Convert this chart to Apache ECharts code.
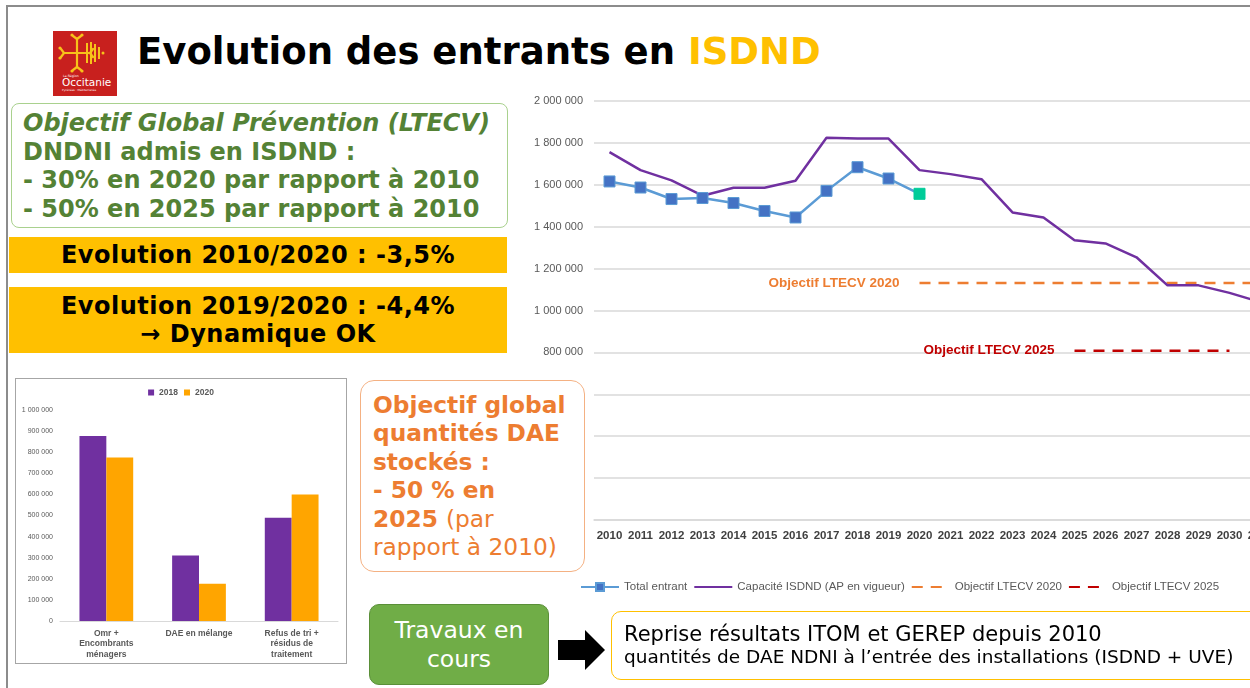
<!DOCTYPE html>
<html>
<head>
<meta charset="utf-8">
<script src="https://cdn.jsdelivr.net/npm/echarts@6/dist/echarts.min.js"></script>
<style>
  html, body { margin: 0; padding: 0; }
  body { width: 1250px; height: 688px; overflow: hidden; background: #fff; position: relative;
         font-family: "DejaVu Sans", Verdana, sans-serif; }
  .abs { position: absolute; box-sizing: border-box; }
  #frame { left: 6px; top: 5px; width: 1300px; height: 720px; border-left: 2px solid #8c8c8c; border-top: 2px solid #8c8c8c; }
  #logo { left: 53px; top: 31px; width: 64px; height: 65px; background: #c8201e; }
  #title { left: 137px; top: 28px; font-size: 37px; font-weight: bold; line-height: 48px; white-space: nowrap; color: #000; }
  #title span { color: #ffc000; }
  #goal { left: 11px; top: 103px; width: 497px; height: 125px; border: 1.5px solid #a9d18e; border-radius: 8px;
          padding: 5px 0 0 11px; color: #548235; font-weight: bold; font-size: 24px; line-height: 28.5px; white-space: nowrap; }
  .yel { background: #ffc000; left: 9px; width: 498px; text-align: center; font-weight: bold; font-size: 24px;
         letter-spacing: 0.5px; color: #000; white-space: nowrap; }
  #evo1 { top: 237px; height: 36px; line-height: 36px; }
  #evo2 { top: 287px; height: 66px; line-height: 28px; padding-top: 5px; }
  #barbox { left: 15px; top: 378px; width: 332px; height: 286px; border: 1px solid #a6a6a6; background: #fff; }
  #bars { left: 0; top: 0; width: 330px; height: 284px; }
  #dae { left: 360px; top: 380px; width: 225px; height: 192px; border: 1.5px solid #f4b183; border-radius: 14px; background: #fff;
         padding: 10px 0 0 12px; color: #ed7d31; font-weight: bold; font-size: 23.3px; line-height: 28.4px; white-space: nowrap; z-index: 5; }
  #dae span { font-weight: normal; }
  #travaux { left: 369px; top: 604px; width: 180px; height: 81px; background: #70ad47; border: 1px solid #5a8f38; border-radius: 10px;
             color: #fff; font-size: 23.5px; line-height: 29px; text-align: center; padding-top: 11px; white-space: nowrap; }
  #arrow { left: 556px; top: 628px; width: 52px; height: 44px; }
  #reprise { left: 611px; top: 611px; width: 660px; height: 69px; border: 1.5px solid #ffc000; border-radius: 10px;
             padding: 11px 0 0 12px; color: #000; white-space: nowrap; }
  #reprise .l1 { font-size: 21px; line-height: 23px; }
  #reprise .l2 { font-size: 18.5px; line-height: 21px; }
  #main { left: 520px; top: 85px; width: 770px; height: 530px; }
</style>
</head>
<body>
<div id="frame" class="abs"></div>

<div id="logo" class="abs">
  <svg width="64" height="65" viewBox="0 0 64 65">
    <g stroke="#f7c21a" stroke-width="2.2" fill="none" stroke-linecap="round">
      <path d="M24 8 L24 36 M11 22 L37 22"/>
      <path d="M24 8 L20 5 M24 8 L28 5 M24 36 L20 39 M24 36 L28 39 M11 22 L8 18 M11 22 L8 26"/>
      <path d="M37 22 L40 18 M37 22 L40 26"/>
    </g>
    <g fill="#f7c21a">
      <circle cx="19" cy="4" r="1.6"/><circle cx="29" cy="4" r="1.6"/>
      <circle cx="19" cy="40" r="1.6"/><circle cx="29" cy="40" r="1.6"/>
      <circle cx="7" cy="17" r="1.6"/><circle cx="7" cy="27" r="1.6"/>
      <rect x="33" y="12" width="2" height="20"/><rect x="37" y="11" width="2" height="22"/>
      <rect x="41" y="13" width="2" height="18"/><rect x="45" y="16" width="2" height="12"/>
      <circle cx="50" cy="22" r="1.5"/>
    </g>
    <text x="10" y="46" font-size="3.2" fill="#fff" font-family="DejaVu Sans">La Région</text>
    <text x="9" y="55" font-size="10.5" fill="#fff" font-family="DejaVu Sans">Occitanie</text>
    <text x="9" y="60" font-size="2.8" fill="#fff" font-family="DejaVu Sans">Pyrénées · Méditerranée</text>
  </svg>
</div>

<div id="title" class="abs">Evolution des entrants en <span>ISDND</span></div>

<div id="goal" class="abs"><i>Objectif Global Prévention (LTECV)</i><br>DNDNI admis en ISDND :<br>- 30% en 2020 par rapport à 2010<br>- 50% en 2025 par rapport à 2010</div>

<div id="evo1" class="abs yel">Evolution 2010/2020 : -3,5%</div>
<div id="evo2" class="abs yel">Evolution 2019/2020 : -4,4%<br>→ Dynamique OK</div>

<div id="main" class="abs"></div>

<div id="barbox" class="abs"><div id="bars" class="abs"></div></div>

<div id="dae" class="abs">Objectif global<br>quantités DAE<br>stockés :<br>- 50 % en<br>2025 <span>(par<br>rapport à 2010)</span></div>

<div id="travaux" class="abs">Travaux en<br>cours</div>

<svg id="arrow" class="abs" viewBox="0 0 52 44">
  <polygon points="2,12 29,12 29,2 49,22 29,42 29,32 2,32" fill="#000"/>
</svg>

<div id="reprise" class="abs"><div class="l1">Reprise résultats ITOM et GEREP depuis 2010</div><div class="l2">quantités de DAE NDNI à l’entrée des installations (ISDND + UVE)</div></div>

<script>
  // ---- données du graphique principal (tonnes / an) ----
  var years = ['2010','2011','2012','2013','2014','2015','2016','2017','2018','2019','2020',
               '2021','2022','2023','2024','2025','2026','2027','2028','2029','2030','2031'];
  var totalEntrant = [1616000, 1587000, 1532000, 1537000, 1513000, 1475000, 1444000, 1571000, 1684000, 1630000, 1557000];
  var capaciteIsdnd = [1756000, 1670000, 1621000, 1548000, 1586000, 1586000, 1619000, 1825000, 1821000, 1821000, 1670000,
                       1651000, 1627000, 1468000, 1444000, 1335000, 1320000, 1254000, 1120000, 1120000, 1084000, 1040000];
  var objectif2020 = [null, null, null, null, null, null, null, null, null, null, 1131000,
                      1131000, 1131000, 1131000, 1131000, 1131000, 1131000, 1131000, 1131000, 1131000, 1131000, 1131000];
  var objectif2025 = [null, null, null, null, null, null, null, null, null, null, null,
                      null, null, null, null, 808000, 808000, 808000, 808000, 808000, 808000, null];

  // ---- petit graphique : 2018 / 2020 ----
  var dechetCategories = ['Omr +\nEncombrants\nménagers', 'DAE en mélange', 'Refus de tri +\nrésidus de\ntraitement'];
  var tonnage2018 = [877000, 310000, 489000];
  var tonnage2020 = [775000, 177000, 600000];

  function fmt(v) {
    return String(v).replace(/\B(?=(\d{3})+(?!\d))/g, ' ');
  }

  var excelFont = '"Liberation Sans Narrow", "Liberation Sans", sans-serif';

  // point 2020 en vert
  var totalData = totalEntrant.map(function(v, i) {
    if (i === totalEntrant.length - 1) {
      return { value: v, itemStyle: { color: '#00cc99', borderColor: '#00cc99' } };
    }
    return v;
  });

  function withLabel(arr, text, color) {
    var first = true;
    return arr.map(function(v) {
      if (v !== null && first) {
        first = false;
        return {
          value: v,
          label: {
            show: true, position: 'left', distance: 20, formatter: text,
            color: color, fontWeight: 'bold', fontSize: 13.5, fontFamily: excelFont
          }
        };
      }
      return v;
    });
  }

  var chartMain = echarts.init(document.getElementById('main'));
  chartMain.setOption({
    animation: false,
    grid: { left: 74, top: 16, width: 682, height: 419, containLabel: false, outerBoundsMode: 'none' },
    legend: {
      left: 60, top: 496, padding: 0,
      itemWidth: 38, itemHeight: 10, itemGap: 6,
      textStyle: { color: '#595959', fontSize: 11.5, fontFamily: excelFont },
      data: [
        { name: 'Total entrant' },
        { name: 'Capacité ISDND (AP en vigueur)', itemStyle: { opacity: 0 } },
        { name: 'Objectif LTECV 2020', itemStyle: { opacity: 0 } },
        { name: 'Objectif LTECV 2025', itemStyle: { opacity: 0 } }
      ]
    },
    xAxis: {
      type: 'category',
      data: years,
      axisLine: { lineStyle: { color: '#d9d9d9', width: 1.5 } },
      axisTick: { show: false },
      axisLabel: { color: '#404040', fontWeight: 'bold', fontSize: 11.5, margin: 10, fontFamily: excelFont, interval: 0 }
    },
    yAxis: {
      type: 'value', min: 0, max: 2000000, interval: 200000,
      axisLine: { show: false },
      axisTick: { show: false },
      splitLine: { lineStyle: { color: '#d9d9d9', width: 1.5 } },
      axisLabel: { color: '#595959', fontSize: 11, margin: 11, fontFamily: excelFont, formatter: fmt }
    },
    series: [
      {
        name: 'Total entrant', type: 'line', data: totalData,
        symbol: 'rect', symbolSize: 11,
        lineStyle: { color: '#5b9bd5', width: 2.5 },
        itemStyle: { color: '#4472c4', borderColor: '#5b9bd5', borderWidth: 1 },
        z: 4
      },
      {
        name: 'Capacité ISDND (AP en vigueur)', type: 'line', data: capaciteIsdnd,
        symbol: 'none',
        lineStyle: { color: '#7030a0', width: 2.5 },
        itemStyle: { color: '#7030a0' },
        z: 3
      },
      {
        name: 'Objectif LTECV 2020', type: 'line',
        data: withLabel(objectif2020, 'Objectif LTECV 2020', '#ed7d31'),
        symbol: 'circle', symbolSize: 0.1,
        lineStyle: { color: '#ed7d31', width: 2.5, type: [11, 8] },
        itemStyle: { color: '#ed7d31' },
        z: 2
      },
      {
        name: 'Objectif LTECV 2025', type: 'line',
        data: withLabel(objectif2025, 'Objectif LTECV 2025', '#c00000'),
        symbol: 'circle', symbolSize: 0.1,
        lineStyle: { color: '#c00000', width: 2.5, type: [11, 8] },
        itemStyle: { color: '#c00000' },
        z: 2
      }
    ]
  });

  var chartBars = echarts.init(document.getElementById('bars'));
  chartBars.setOption({
    animation: false,
    grid: { left: 44, top: 31, width: 278, height: 211, containLabel: false, outerBoundsMode: 'none' },
    legend: {
      top: 4, left: 'center',
      itemWidth: 6, itemHeight: 6, itemGap: 6,
      icon: 'rect',
      textStyle: { color: '#595959', fontSize: 8.5, fontWeight: 'bold' },
      data: ['2018', '2020']
    },
    xAxis: {
      type: 'category',
      data: dechetCategories,
      axisLine: { lineStyle: { color: '#d9d9d9' } },
      axisTick: { show: false },
      axisLabel: { color: '#595959', fontWeight: 'bold', fontSize: 8.5, lineHeight: 10.5, margin: 7, interval: 0 }
    },
    yAxis: {
      type: 'value', min: 0, max: 1000000, interval: 100000,
      axisLine: { show: false },
      axisTick: { show: false },
      splitLine: { show: false },
      axisLabel: { color: '#595959', fontSize: 7, margin: 7, formatter: fmt }
    },
    series: [
      { name: '2018', type: 'bar', data: tonnage2018, itemStyle: { color: '#7030a0' }, barGap: '0%', barCategoryGap: '42%' },
      { name: '2020', type: 'bar', data: tonnage2020, itemStyle: { color: '#ffa500' }, barGap: '0%', barCategoryGap: '42%' }
    ]
  });
</script>
</body>
</html>
